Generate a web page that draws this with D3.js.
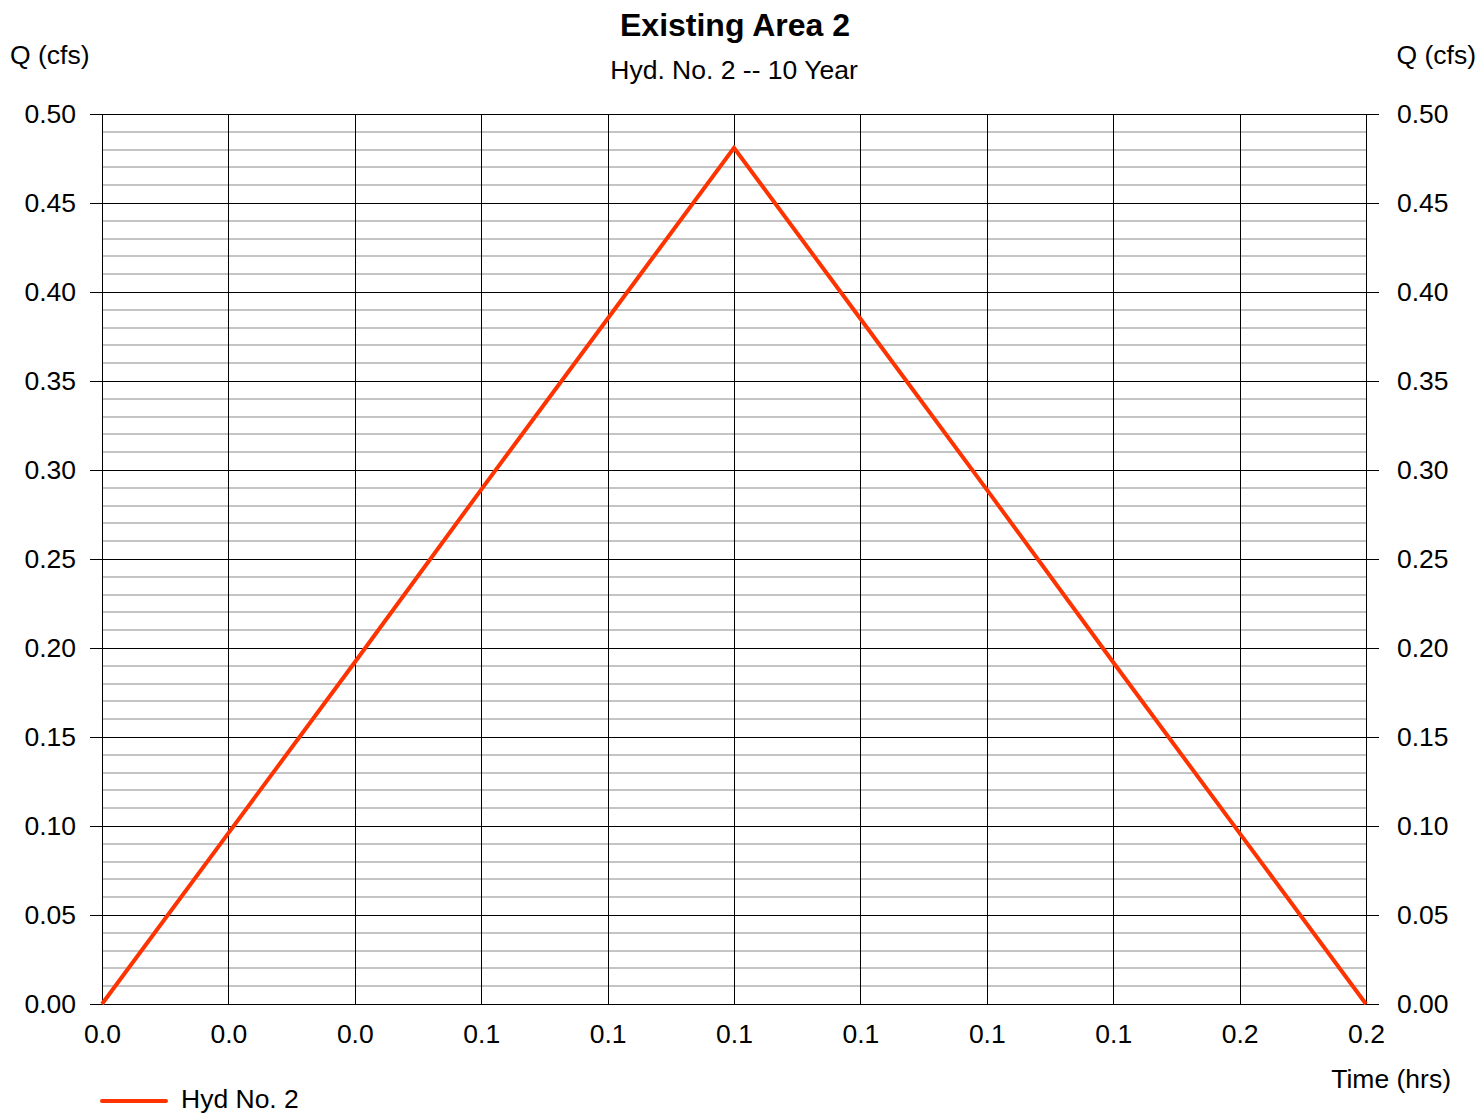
<!DOCTYPE html>
<html>
<head>
<meta charset="utf-8">
<script src="https://cdn.jsdelivr.net/npm/d3@7/dist/d3.min.js"></script>
<style>
  html, body { margin: 0; padding: 0; background: #fff; }
  svg { display: block; font-family: "Liberation Sans", Arial, sans-serif; }
</style>
</head>
<body>
<svg id="chart" width="1478" height="1114"></svg>
<script>
// Hydrograph ordinates at 1-minute steps (time in hours)
const timeHrs = [0, 1/60, 2/60, 3/60, 4/60, 5/60, 6/60, 7/60, 8/60, 9/60, 10/60];
const flowCfs = [0.000, 0.096, 0.192, 0.289, 0.385, 0.481, 0.385, 0.289, 0.192, 0.096, 0.000];

// Axis ticks and their labels
const xTickValues = [0, 1/60, 2/60, 3/60, 4/60, 5/60, 6/60, 7/60, 8/60, 9/60, 10/60];
const xTickLabels = ["0.0", "0.0", "0.0", "0.1", "0.1", "0.1", "0.1", "0.1", "0.1", "0.2", "0.2"];
const yMajorTicks = [0, 0.05, 0.10, 0.15, 0.20, 0.25, 0.30, 0.35, 0.40, 0.45, 0.50];
const yMinorTicks = d3.range(0, 51).map(i => i / 100).filter(v => Math.round(v * 100) % 5 !== 0);

const chartTitle = "Existing Area 2";
const chartSubtitle = "Hyd. No. 2 -- 10 Year";
const seriesName = "Hyd No. 2";

const svg = d3.select("#chart");
const plotLeft = 102, plotRight = 1366, plotTop = 114, plotBottom = 1004;
const fontSize = 26.5;

const x = d3.scaleLinear().domain([0, 10/60]).range([plotLeft, plotRight]);
const y = d3.scaleLinear().domain([0, 0.5]).range([plotBottom, plotTop]);

// Minor horizontal grid
svg.append("g")
  .selectAll("line").data(yMinorTicks).join("line")
  .attr("x1", plotLeft + 1).attr("x2", plotRight)
  .attr("y1", d => Math.round(y(d))).attr("y2", d => Math.round(y(d)))
  .attr("stroke", "#c4c4c4").attr("stroke-width", 2);

// Vertical grid lines
svg.append("g")
  .selectAll("line").data(xTickValues).join("line")
  .attr("x1", d => Math.round(x(d)) + 0.5).attr("x2", d => Math.round(x(d)) + 0.5)
  .attr("y1", plotTop).attr("y2", plotBottom)
  .attr("stroke", "#000").attr("stroke-width", 1);

// Major horizontal grid with tick extensions on both sides
svg.append("g")
  .selectAll("line").data(yMajorTicks).join("line")
  .attr("x1", plotLeft - 12).attr("x2", plotRight + 13)
  .attr("y1", d => Math.round(y(d)) + 0.5).attr("y2", d => Math.round(y(d)) + 0.5)
  .attr("stroke", "#000").attr("stroke-width", 1);

// Left, right and bottom axis labels via d3 axes (lines hidden; grid draws them)
const fmt = d3.format(".2f");
const leftAxis = svg.append("g").attr("transform", `translate(${plotLeft - 26},0)`)
  .call(d3.axisLeft(y).tickValues(yMajorTicks).tickFormat(fmt).tickSize(0).tickPadding(0));
const rightAxis = svg.append("g").attr("transform", `translate(${plotRight + 31},0)`)
  .call(d3.axisRight(y).tickValues(yMajorTicks).tickFormat(fmt).tickSize(0).tickPadding(0));
const bottomAxis = svg.append("g").attr("transform", `translate(0,${plotBottom})`)
  .call(d3.axisBottom(x).tickValues(xTickValues).tickFormat((d, i) => xTickLabels[i]).tickSize(0).tickPadding(20));
[leftAxis, rightAxis, bottomAxis].forEach(g => {
  g.select(".domain").remove();
  g.selectAll("text").attr("font-size", fontSize).attr("fill", "#000")
    .attr("font-family", "'Liberation Sans', Arial, sans-serif");
});

// Hydrograph line
const line = d3.line().x((d, i) => x(timeHrs[i])).y(d => y(d));
svg.append("path")
  .datum(flowCfs)
  .attr("d", line)
  .attr("fill", "none")
  .attr("stroke", "#ff3300")
  .attr("stroke-width", 4)
  .attr("stroke-linejoin", "miter");

// Titles
svg.append("text").attr("x", 735).attr("y", 36).attr("text-anchor", "middle")
  .attr("font-size", 32).attr("font-weight", "bold").text(chartTitle);
svg.append("text").attr("x", 734).attr("y", 79).attr("text-anchor", "middle")
  .attr("font-size", fontSize).text(chartSubtitle);

// Axis titles
svg.append("text").attr("x", 10).attr("y", 64).attr("font-size", fontSize).text("Q (cfs)");
svg.append("text").attr("x", 1476).attr("y", 64).attr("text-anchor", "end").attr("font-size", fontSize).text("Q (cfs)");
svg.append("text").attr("x", 1451).attr("y", 1088).attr("text-anchor", "end").attr("font-size", fontSize).text("Time (hrs)");

// Legend
svg.append("line").attr("x1", 102).attr("x2", 166).attr("y1", 1101).attr("y2", 1101)
  .attr("stroke", "#ff3300").attr("stroke-width", 4).attr("stroke-linecap", "round");
svg.append("text").attr("x", 181).attr("y", 1107.5).attr("font-size", fontSize).text(seriesName);
</script>
</body>
</html>
